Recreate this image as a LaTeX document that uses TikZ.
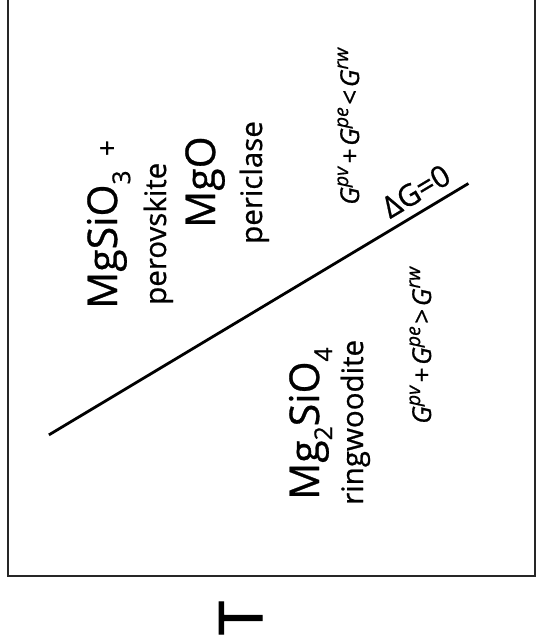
\documentclass[tikz,border=0pt]{standalone}
\usepackage{fontspec}
\setmainfont{Open Sans}[FakeBold=0.7]
\newfontfamily\Tfont{Open Sans}[FakeBold=2]
\newcommand\Gsp[1]{\textit{G}\raisebox{0.42em}{\scalebox{0.75}{\textit{#1}}}}
\newcommand\opsp{\hspace{0.1em}}
\newcommand\fs[1]{\fontsize{#1}{#1}\selectfont}
\newcommand\chsub[1]{\raisebox{-0.32em}{\scalebox{0.6}{#1}}}
\begin{document}
\begin{tikzpicture}[x=1pt,y=-1pt,
  txt/.style={rotate=90,anchor=base west,inner sep=0pt,text=black},
  bigf/.style={txt,font=\fs{41}},
  namef/.style={txt,font=\fs{29.5}},
  gibbs/.style={txt,font=\fs{26}},
  frame/.style={line width=2.2pt,draw=black!85},
  boundary/.style={line width=2.8pt,draw=black}]
\useasboundingbox (0,0) rectangle (536,642);
\fill[white] (0,0) rectangle (536,642);
\draw[frame] (8,-2) -- (8,576) -- (535,576) -- (535,-2);
\coordinate (A) at (48.9,434.9);
\coordinate (B) at (468.4,183.5);
\draw[boundary] (A) -- (B) node[pos=0.9,sloped,above=8pt,inner sep=0pt,font=\fs{30}] (dg) {ΔG=0};
\node[bigf] (pv) at (117,309) {MgSiO\chsub{3}\hspace{0.35em}{\fs{28}+}};
\node[namef] (pvn) at (166,305) {perovskite};
\node[bigf] (pe) at (215,228) {MgO};
\node[namef] (pen) at (262,244) {periclase};
\node[bigf] (rw) at (319,500) {Mg\chsub{2}SiO\chsub{4}};
\node[namef] (rwn) at (363,505) {ringwoodite};
\node[gibbs] (g1) at (359,205) {\Gsp{pv}\opsp+\opsp\Gsp{pe}\opsp<\opsp\Gsp{rw}};
\node[gibbs] (g2) at (431,424) {\Gsp{pv}\opsp+\opsp\Gsp{pe}\opsp>\opsp\Gsp{rw}};
\node[rotate=90,anchor=base,inner sep=0pt,font=\Tfont\fs{60}] (T) at (262,618) {T};
\end{tikzpicture}
\end{document}
